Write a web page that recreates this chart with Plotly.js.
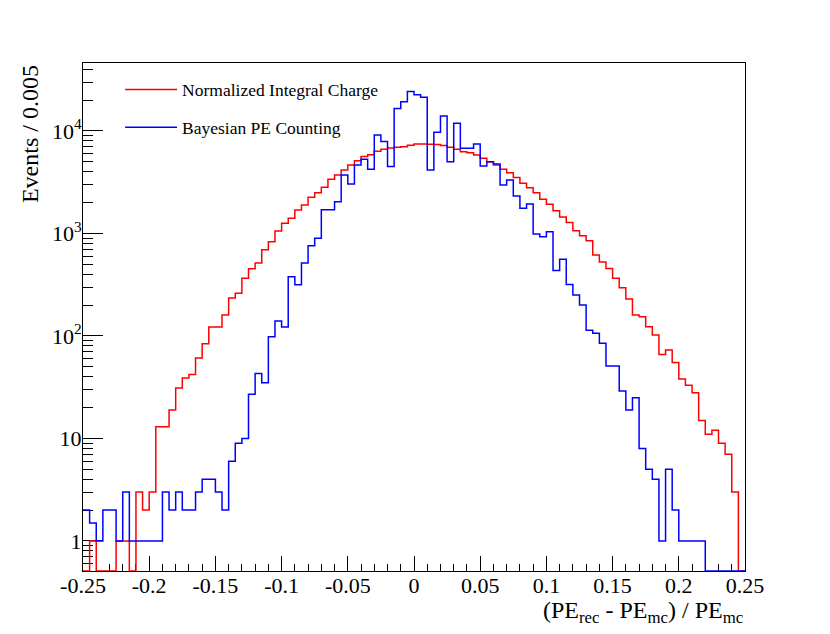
<!DOCTYPE html>
<html>
<head>
<meta charset="utf-8">
<script src="https://cdn.plot.ly/plotly-3.0.1.min.js"></script>
<style>
  html, body { margin: 0; padding: 0; background: #fff; }
  #plot { width: 830px; height: 634px; }
</style>
</head>
<body>
<div id="plot"></div>
<script>
// histogram binning: 100 bins of 0.005 from -0.25 to 0.25
const binLow = -0.25;
const binWidth = 0.005;

// counts per bin (0 = empty bin)
const integralCharge = [
  0, 1, 0, 0, 0, 1, 1, 0, 3, 2,
  3, 13, 13, 19, 31, 39, 42, 61, 84, 122,
  122, 160, 235, 261, 365, 452, 515, 695, 832, 1055,
  1260, 1405, 1690, 1890, 2250, 2500, 2820, 3380, 3720, 4170,
  4660, 5130, 5620, 5870, 6340, 6630, 6830, 6930, 7030, 7250,
  7470, 7470, 7420, 7380, 7200, 6930, 6630, 6280, 6140, 5830,
  5420, 5010, 4660, 4230, 3920, 3510, 3090, 2800, 2500, 2160,
  1930, 1670, 1450, 1280, 1060, 950, 851, 617, 527, 454,
  365, 296, 230, 160, 154, 123, 102, 66, 73, 55,
  38, 33, 28, 15, 11, 12, 9, 7, 3, 0
];

const bayesianCounting = [
  2, 1.5, 1, 2, 2, 1, 3, 1, 1, 1,
  1, 1, 3, 2, 3, 2, 2, 3, 4, 4,
  3, 2, 6, 9, 10, 27, 43, 35, 98, 140,
  122, 379, 316, 515, 758, 897, 1700, 1700, 2040, 3720,
  3040, 4660, 5300, 4230, 9140, 7870, 4490, 16600, 19300, 24200,
  22500, 21300, 4170, 9700, 14000, 5010, 11900, 6780, 6780, 7470,
  4560, 5010, 4770, 2970, 3330, 2320, 1760, 1940, 989, 931,
  1040, 434, 560, 318, 251, 201, 114, 106, 85, 51,
  51, 29, 19, 25, 8, 5, 4, 1, 5, 2,
  1, 1, 1, 1, 0, 0, 0, 0, 0, 0
];

const seriesNames = ['Normalized Integral Charge', 'Bayesian PE Counting'];
const seriesColors = ['#ff0000', '#0000ff'];

const xTickVals = [-0.25, -0.2, -0.15, -0.1, -0.05, 0, 0.05, 0.1, 0.15, 0.2, 0.25];
const xTickText = ['-0.25', '-0.2', '-0.15', '-0.1', '-0.05', '0', '0.05', '0.1', '0.15', '0.2', '0.25'];
const yTickVals = [1, 10, 100, 1000, 10000];
const yTickText = ['1', '10', '10<sup>2</sup>', '10<sup>3</sup>', '10<sup>4</sup>'];

const yRange = [-0.293, 4.663];
const yFloor = Math.pow(10, yRange[0]); // empty bins sit on the frame, like ROOT

// minor ticks 2..9 in every decade
const yMinor = [];
for (let d = -1; d <= 4; d++) {
  for (let m = 2; m <= 9; m++) yMinor.push(m * Math.pow(10, d));
}

function stepTrace(counts, name, color, rank) {
  const x = [];
  const y = [];
  counts.forEach((c, i) => {
    x.push(binLow + i * binWidth);
    y.push(c > 0 ? c : yFloor);
  });
  x.push(binLow + counts.length * binWidth);
  y.push(y[y.length - 1]);
  return {
    x: x,
    y: y,
    name: name,
    type: 'scatter',
    mode: 'lines',
    line: { shape: 'hv', color: color, width: 1.5 },
    legendgroup: name,
    legendrank: rank,
  };
}

const data = [
  stepTrace(integralCharge, seriesNames[0], seriesColors[0], 1),
  stepTrace(bayesianCounting, seriesNames[1], seriesColors[1], 2),
];

const serif = 'Liberation Serif, Times New Roman, serif';

const layout = {
  width: 830,
  height: 634,
  margin: { l: 83, r: 85, t: 63, b: 63 },
  paper_bgcolor: '#fff',
  plot_bgcolor: '#fff',
  font: { family: serif, color: '#000', size: 22 },
  showlegend: true,
  legend: {
    x: 0.056,
    y: 0.983,
    xanchor: 'left',
    yanchor: 'top',
    bgcolor: 'rgba(0,0,0,0)',
    font: { family: serif, size: 17.5 },
    itemwidth: 52,
    traceorder: 'grouped',
    tracegroupgap: 12,
  },
  xaxis: {
    range: [-0.25, 0.25],
    tickvals: xTickVals,
    ticktext: xTickText,
    ticks: 'inside',
    ticklen: 15,
    tickwidth: 1,
    tickcolor: '#000',
    minor: { ticks: 'inside', ticklen: 7, dtick: 0.01, tick0: -0.25, tickcolor: '#000' },
    showgrid: false,
    zeroline: false,
    showline: true,
    mirror: true,
    linecolor: '#000',
    linewidth: 1,
    layer: 'below traces',
    tickfont: { family: serif, size: 22 },
    ticklabelstandoff: -5,
  },
  yaxis: {
    type: 'log',
    range: yRange,
    tickvals: yTickVals,
    ticktext: yTickText,
    ticks: 'inside',
    ticklen: 20,
    tickwidth: 1,
    tickcolor: '#000',
    minor: { ticks: 'inside', ticklen: 10, tickvals: yMinor, tickcolor: '#000' },
    showgrid: false,
    zeroline: false,
    showline: true,
    mirror: true,
    linecolor: '#000',
    linewidth: 1,
    layer: 'below traces',
    tickfont: { family: serif, size: 22 },
    ticklabelstandoff: -4,
  },
  annotations: [
    {
      text: 'Events / 0.005',
      textangle: -90,
      xref: 'paper', yref: 'paper',
      x: -0.08, y: 1,
      xanchor: 'center', yanchor: 'top',
      showarrow: false,
      font: { family: serif, size: 24 },
    },
    {
      text: '(PE<sub>rec</sub> - PE<sub>mc</sub>) / PE<sub>mc</sub>',
      xref: 'paper', yref: 'paper',
      x: 1, y: -0.048,
      xanchor: 'right', yanchor: 'top',
      showarrow: false,
      font: { family: serif, size: 24 },
    },
  ],
};

Plotly.newPlot('plot', data, layout, { staticPlot: true });
</script>
</body>
</html>
